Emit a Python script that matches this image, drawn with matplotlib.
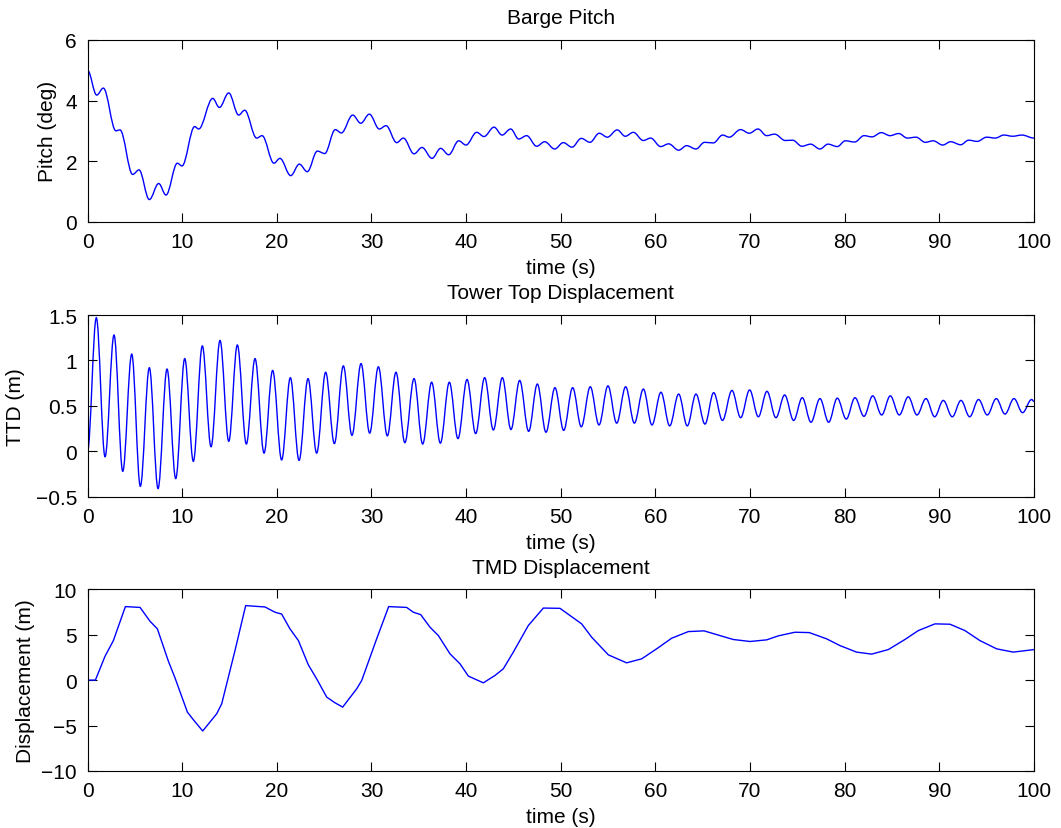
import numpy as np
import matplotlib.pyplot as plt
from matplotlib.path import Path
from matplotlib.patches import PathPatch

plt.rcParams['font.family'] = ['Liberation Sans', 'DejaVu Sans']

# Barge pitch (deg) at its wiggle extrema
pitch_t = [0, 0.97, 1.67, 3.0, 3.43, 4.77, 5.44, 6.53, 7.52, 8.29, 9.49, 9.98,
           11.32, 11.74, 13.23, 13.93, 14.92, 15.97, 16.6, 17.87, 18.44, 19.7,
           20.33, 21.47, 22.38, 23.22, 24.28, 25.06, 26.18, 26.82, 28.02, 28.87,
           29.78, 30.83, 31.54, 32.67, 33.37, 34.5, 35.34, 36.4, 37.31, 38.16,
           39.22, 39.99, 41.12, 41.89, 42.95, 43.8, 44.71, 45.56, 46.4, 47.46,
           48.3, 49.36, 50.27, 51.19, 52.17, 53.09, 54.07, 54.92, 55.97, 56.82,
           57.67, 58.72, 59.5, 60.56, 61.4, 62.46, 63.3, 64.29, 65.2, 66.12,
           67.11, 67.8, 69.0, 69.92, 70.84, 71.76, 72.6, 73.73, 74.5, 75.49,
           76.4, 77.39, 78.24, 79.22, 80.07, 81.06, 82.04, 82.89, 83.87, 84.79,
           85.71, 86.62, 87.54, 88.52, 89.36, 90.36, 91.2, 92.26, 93.1, 94.01,
           95.0, 95.91, 96.83, 97.75, 98.73, 100]
pitch_deg = [5.0, 4.18, 4.41, 3.0, 3.03, 1.56, 1.71, 0.73, 1.26, 0.88, 1.93, 1.84,
             3.14, 3.06, 4.07, 3.77, 4.25, 3.52, 3.68, 2.76, 2.84, 1.93,
             2.09, 1.52, 1.9, 1.65, 2.33, 2.25, 3.04, 2.93, 3.52, 3.25,
             3.55, 3.06, 3.17, 2.61, 2.76, 2.24, 2.45, 2.09, 2.42, 2.21,
             2.67, 2.53, 2.95, 2.81, 3.12, 2.86, 3.06, 2.73, 2.84, 2.49,
             2.64, 2.4, 2.61, 2.46, 2.75, 2.62, 2.92, 2.79, 3.03, 2.82,
             2.95, 2.68, 2.76, 2.48, 2.57, 2.36, 2.51, 2.4, 2.62, 2.6,
             2.86, 2.79, 3.04, 2.92, 3.06, 2.84, 2.89, 2.68, 2.69, 2.49,
             2.56, 2.4, 2.56, 2.48, 2.67, 2.63, 2.84, 2.80, 2.94, 2.84,
             2.91, 2.76, 2.79, 2.62, 2.67, 2.53, 2.64, 2.54, 2.69, 2.65,
             2.79, 2.76, 2.86, 2.82, 2.86, 2.76]

# Tower top displacement (m), peaks and troughs
ttd_t = [0, 0.93, 1.85, 2.80, 3.72, 4.67, 5.58, 6.53, 7.45, 8.40, 9.32, 10.27,
         11.18, 12.13, 13.05, 14.0, 14.92, 15.83, 16.78, 17.70, 18.65, 19.56,
         20.51, 21.43, 22.35, 23.30, 24.21, 25.16, 26.08, 27.03, 27.94, 28.90,
         29.81, 30.73, 31.68, 32.59, 33.53, 34.50, 35.41, 36.36, 37.28, 38.23,
         39.14, 40.10, 41.01, 41.96, 42.88, 43.83, 44.74, 45.66, 46.61, 47.53,
         48.44, 49.39, 50.31, 51.26, 52.17, 53.12, 54.04, 54.99, 55.91, 56.86,
         57.78, 58.73, 59.64, 60.59, 61.51, 62.46, 63.37, 64.29, 65.24, 66.16,
         67.09, 68.09, 69.01, 69.96, 70.88, 71.79, 72.74, 73.66, 74.61, 75.52,
         76.44, 77.39, 78.31, 79.22, 80.17, 81.09, 82.04, 82.96, 83.91, 84.82,
         85.77, 86.72, 87.64, 88.59, 89.51, 90.42, 91.37, 92.29, 93.21, 94.15,
         95.07, 96.02, 96.94, 97.89, 98.80, 99.75, 100]
ttd_m = [0, 1.47, -0.06, 1.28, -0.22, 1.07, -0.385, 0.92, -0.41, 0.905, -0.30, 1.02,
         -0.11, 1.16, 0.05, 1.22, 0.11, 1.17, 0.08, 1.02, -0.02, 0.89,
         -0.095, 0.81, -0.10, 0.80, -0.02, 0.87, 0.085, 0.94, 0.176, 0.965,
         0.20, 0.93, 0.17, 0.87, 0.095, 0.80, 0.08, 0.76, 0.09, 0.76,
         0.14, 0.79, 0.195, 0.81, 0.235, 0.81, 0.24, 0.78, 0.22, 0.74,
         0.21, 0.70, 0.23, 0.70, 0.27, 0.71, 0.29, 0.72, 0.31, 0.71,
         0.31, 0.685, 0.29, 0.65, 0.28, 0.63, 0.28, 0.63, 0.30, 0.645,
         0.34, 0.67, 0.37, 0.675, 0.38, 0.66, 0.37, 0.62, 0.34, 0.59,
         0.32, 0.58, 0.32, 0.585, 0.355, 0.59, 0.385, 0.61, 0.40, 0.61,
         0.40, 0.60, 0.40, 0.58, 0.38, 0.56, 0.38, 0.56, 0.38, 0.57,
         0.40, 0.58, 0.41, 0.58, 0.425, 0.57, 0.55]

# TMD displacement (m)
tmd_t = [0, 0.83, 1.85, 2.73, 4.0, 5.55, 6.60, 7.38, 8.54, 9.24, 10.55, 11.18,
         12.17, 13.65, 14.18, 15.58, 16.71, 18.75, 19.81, 20.51, 21.39, 22.28,
         23.33, 24.21, 25.27, 26.15, 26.96, 28.44, 28.97, 30.55, 31.82, 33.72,
         34.43, 35.2, 36.19, 37.07, 38.3, 39.36, 40.24, 41.82, 43.05, 43.93,
         44.99, 46.57, 48.16, 49.92, 52.21, 53.27, 55.03, 56.96, 58.55, 60.13,
         61.72, 63.48, 65.14, 66.47, 68.23, 70.0, 71.76, 72.99, 74.75, 76.26,
         78.1, 79.5, 81.26, 82.85, 84.61, 86.37, 87.78, 89.54, 91.13, 92.71,
         94.29, 96.06, 97.82, 100]
tmd_m = [0, 0, 2.63, 4.35, 8.09, 8.0, 6.48, 5.64, 2.09, 0.25, -3.52, -4.36,
         -5.6, -3.7, -2.6, 3.25, 8.2, 8.05, 7.47, 7.27, 5.64, 4.35,
         1.68, 0.14, -1.87, -2.5, -2.97, -0.96, -0.04, 4.54, 8.09, 8.0,
         7.47, 7.21, 5.82, 4.9, 2.89, 1.79, 0.44, -0.3, 0.51, 1.24,
         3.08, 6.0, 7.93, 7.9, 6.19, 4.72, 2.78, 1.9, 2.34, 3.44,
         4.61, 5.34, 5.42, 5.01, 4.47, 4.25, 4.43, 4.87, 5.27, 5.23,
         4.54, 3.8, 3.08, 2.86, 3.36, 4.47, 5.45, 6.19, 6.15, 5.45,
         4.35, 3.44, 3.08, 3.36]


def extrema_path(t, v, k=0.36):
    # cubic segments between successive extrema, flat at each end
    verts = [(t[0], v[0])]
    codes = [Path.MOVETO]
    for i in range(len(t) - 1):
        dt = t[i + 1] - t[i]
        verts += [(t[i] + k * dt, v[i]), (t[i + 1] - k * dt, v[i + 1]), (t[i + 1], v[i + 1])]
        codes += [Path.CURVE4] * 3
    return Path(verts, codes)


panels = [
    (pitch_t, pitch_deg, True, 'Barge Pitch', 'Pitch (deg)', (0, 6), [0, 2, 4, 6],
     0.7314, -0.032),
    (ttd_t, ttd_m, True, 'Tower Top Displacement', 'TTD (m)', (-0.5, 1.5),
     [-0.5, 0, 0.5, 1, 1.5], 0.3996, -0.066),
    (tmd_t, tmd_m, False, 'TMD Displacement', 'Displacement (m)', (-10, 10),
     [-10, -5, 0, 5, 10], 0.0688, -0.056),
]

fig = plt.figure(figsize=(10.61, 8.29), dpi=100)
for t, v, smooth, title, ylab, ylim, yticks, bottom, ylab_x in panels:
    ax = fig.add_axes([0.0825, bottom, 0.892, 0.2192])
    if smooth:
        ax.add_patch(PathPatch(extrema_path(t, v), fill=False, edgecolor='#0000ff', lw=1.0))
    else:
        ax.plot(t, v, color='#0000ff', lw=1.0)
    ax.set_xlim(0, 100)
    ax.set_ylim(*ylim)
    ax.set_xticks(np.arange(0, 101, 10))
    ax.set_yticks(yticks)
    ax.set_yticklabels([f'{y:g}'.replace('-', '\u2212') for y in yticks])
    ax.tick_params(direction='in', length=6.5, width=0.8, top=True, right=True,
                   labelsize=15, pad=7.5)
    for s in ax.spines.values():
        s.set_linewidth(0.8)
    ax.set_title(title, fontsize=15, pad=12)
    ax.set_xlabel('time (s)', fontsize=15, labelpad=5)
    ax.set_ylabel(ylab, fontsize=15)
    ax.yaxis.set_label_coords(ylab_x, 0.5)

fig.savefig('out.png', dpi=100)
